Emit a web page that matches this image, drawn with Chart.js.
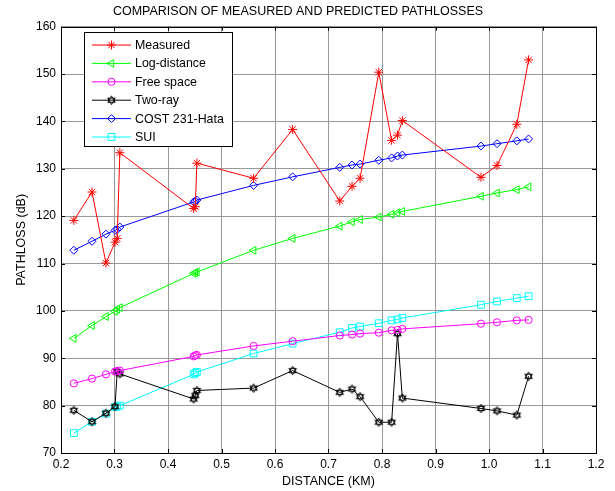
<!DOCTYPE html>
<html>
<head>
<meta charset="utf-8">
<script src="https://cdn.jsdelivr.net/npm/chart.js@4/dist/chart.umd.min.js"></script>
<style>
    body { margin: 0; background: #fff; }
    #wrap { width: 615px; height: 491px; }
</style>
</head>
<body>
<div id="wrap"><canvas id="chart"></canvas></div>
<script>
const distance = [0.224, 0.258, 0.284, 0.301, 0.305, 0.31, 0.448, 0.451, 0.454, 0.56, 0.633,
    0.721, 0.744, 0.759, 0.794, 0.818, 0.829, 0.838, 0.985, 1.015, 1.052, 1.074];
const measured = [119.1, 125.1, 110.1, 114.5, 115.3, 133.4, 121.6, 122.0, 131.2, 128.0, 138.3,
    123.2, 126.3, 128.0, 150.4, 136.0, 137.1, 140.2, 128.2, 130.7, 139.4, 153.0];
const logDistance = [94.2, 96.9, 98.8, 99.9, 100.3, 100.7, 107.9, 108.1, 108.2, 112.8, 115.3,
    117.9, 118.8, 119.3, 119.8, 120.4, 120.7, 121.0, 124.2, 124.9, 125.6, 126.2];
const freeSpace = [84.7, 85.7, 86.6, 87.2, 87.3, 87.4, 90.4, 90.6, 90.7, 92.6, 93.6,
    94.8, 95.0, 95.2, 95.4, 95.9, 96.0, 96.2, 97.3, 97.6, 98.0, 98.1];
const twoRay = [79.0, 76.6, 78.4, 79.8, 87.2, 86.7, 81.4, 82.1, 83.2, 83.7, 87.4,
    82.8, 83.5, 81.9, 76.5, 76.5, 95.2, 81.6, 79.4, 78.9, 78.0, 86.2];
const cost231 = [112.8, 114.7, 116.2, 117.0, 117.2, 117.7, 123.0, 123.2, 123.4, 126.5, 128.3,
    130.3, 130.8, 131.0, 131.8, 132.3, 132.7, 132.9, 134.8, 135.3, 135.9, 136.3];
const sui = [74.2, 76.6, 78.3, 79.7, 79.8, 80.0, 86.6, 86.9, 87.1, 91.0, 93.1,
    95.5, 96.4, 96.7, 97.4, 98.0, 98.2, 98.5, 101.3, 102.0, 102.7, 103.1];

const seriesLabels = ['Measured', 'Log-distance', 'Free space', 'Two-ray', 'COST 231-Hata', 'SUI'];
const xTicks = [0.2, 1.2, 0.1];
const yTicks = [70, 160, 10];

const FONT = "'Liberation Sans', Arial, sans-serif";

// MATLAB style hexagram marker for the two-ray series
const makeHexagram = () => {
    const c = document.createElement('canvas');
    c.width = 11; c.height = 11;
    const g = c.getContext('2d');
    g.strokeStyle = '#000';
    g.lineWidth = 1;
    const tri = (start) => {
        g.beginPath();
        for (let i = 0; i < 3; i++) {
            const a = start + i * 2 * Math.PI / 3;
            const px = 5.5 + 4.3 * Math.cos(a), py = 5.5 + 4.3 * Math.sin(a);
            if (i === 0) g.moveTo(px, py); else g.lineTo(px, py);
        }
        g.closePath();
        g.stroke();
    };
    tri(-Math.PI / 2);
    tri(Math.PI / 2);
    return c;
};
const hexagram = makeHexagram();

const toPoints = (ys) => distance.map((d, i) => ({ x: d, y: ys[i] }));

const makeSet = (label, ys, color, style, radius, rotation) => ({
    label: label,
    data: toPoints(ys),
    borderColor: color,
    backgroundColor: 'transparent',
    borderWidth: 1,
    pointStyle: style,
    pointRadius: radius,
    pointRotation: rotation || 0,
    pointBorderColor: color,
    pointBorderWidth: 1,
    pointBackgroundColor: 'transparent',
    pointHoverRadius: radius,
    fill: false,
    tension: 0
});

const datasets = [
    makeSet(seriesLabels[0], measured, '#ff0000', 'star', 4.5),
    makeSet(seriesLabels[1], logDistance, '#00ff00', 'triangle', 4.5, -90),
    makeSet(seriesLabels[2], freeSpace, '#ff00ff', 'circle', 3.6),
    makeSet(seriesLabels[3], twoRay, '#000000', hexagram, 4),
    makeSet(seriesLabels[4], cost231, '#0000ff', 'rectRot', 4),
    makeSet(seriesLabels[5], sui, '#00ffff', 'rect', 4.8)
];

// box on all four sides plus inward tick marks
const boxPlugin = {
    id: 'matlabBox',
    afterDatasetsDraw(chart) {
        const { ctx, chartArea: a, scales } = chart;
        ctx.save();
        ctx.strokeStyle = '#000';
        ctx.lineWidth = 1;
        ctx.beginPath();
        scales.x.ticks.forEach(t => {
            const px = Math.round(scales.x.getPixelForValue(t.value)) + 0.5;
            ctx.moveTo(px, a.bottom); ctx.lineTo(px, a.bottom - 4);
            ctx.moveTo(px, a.top); ctx.lineTo(px, a.top + 4);
        });
        scales.y.ticks.forEach(t => {
            const py = Math.round(scales.y.getPixelForValue(t.value)) + 0.5;
            ctx.moveTo(a.left, py); ctx.lineTo(a.left + 4, py);
            ctx.moveTo(a.right, py); ctx.lineTo(a.right - 4, py);
        });
        ctx.stroke();
        ctx.strokeRect(Math.round(a.left) + 0.5, Math.round(a.top) + 0.5,
            Math.round(a.right - a.left), Math.round(a.bottom - a.top));
        ctx.restore();
    }
};

// legend inside the axes, upper left, with a black frame
const legendPlugin = {
    id: 'boxLegend',
    afterDraw(chart) {
        const { ctx } = chart;
        const x0 = 84, y0 = 32, w = 148, h = 114;
        ctx.save();
        ctx.fillStyle = '#fff';
        ctx.fillRect(x0, y0, w, h);
        ctx.strokeStyle = '#000';
        ctx.lineWidth = 1;
        ctx.strokeRect(x0 + 0.5, y0 + 0.5, w, h);
        ctx.font = '12.4px ' + FONT;
        ctx.textBaseline = 'middle';
        chart.data.datasets.forEach((ds, i) => {
            const y = y0 + 12.5 + i * 18.4;
            ctx.strokeStyle = ds.borderColor;
            ctx.beginPath();
            ctx.moveTo(92, y + 0.5);
            ctx.lineTo(131, y + 0.5);
            ctx.stroke();
            ctx.fillStyle = 'rgba(0,0,0,0)';
            Chart.helpers.drawPoint(ctx, {
                pointStyle: ds.pointStyle,
                rotation: ds.pointRotation,
                radius: ds.pointRadius,
                borderWidth: 1
            }, 111.5, y + 0.5);
            ctx.fillStyle = '#000';
            ctx.fillText(ds.label, 135, y + 1);
        });
        ctx.restore();
    }
};

new Chart(document.getElementById('chart'), {
    type: 'line',
    data: { datasets: datasets },
    plugins: [boxPlugin, legendPlugin],
    options: {
        responsive: true,
        maintainAspectRatio: false,
        animation: false,
        layout: { padding: { left: 0, right: 19, top: 0, bottom: 0 } },
        plugins: {
            legend: { display: false },
            tooltip: { enabled: false },
            title: {
                display: true,
                text: 'COMPARISON OF MEASURED AND PREDICTED PATHLOSSES',
                color: '#000',
                font: { family: FONT, size: 12.5, weight: 'normal' },
                padding: { top: 4.5, bottom: 7.2 }
            }
        },
        scales: {
            x: {
                type: 'linear',
                min: xTicks[0],
                max: xTicks[1],
                afterFit: s => { s.height = 38; },
                ticks: {
                    stepSize: xTicks[2],
                    color: '#000',
                    padding: 4,
                    maxRotation: 0,
                    font: { family: FONT, size: 12 }
                },
                grid: { color: '#999999', drawTicks: false },
                border: { display: false },
                title: {
                    display: true,
                    text: 'DISTANCE (KM)',
                    color: '#000',
                    font: { family: FONT, size: 12.5 },
                    padding: { top: 0, bottom: 1.8 }
                }
            },
            y: {
                type: 'linear',
                min: yTicks[0],
                max: yTicks[1],
                afterFit: s => { s.width = 61; },
                ticks: {
                    stepSize: yTicks[2],
                    color: '#000',
                    padding: 5,
                    font: { family: FONT, size: 12 }
                },
                grid: { color: '#999999', drawTicks: false },
                border: { display: false },
                title: {
                    display: true,
                    text: 'PATHLOSS (dB)',
                    color: '#000',
                    font: { family: FONT, size: 12.5 },
                    padding: { top: 14.5, bottom: 0 }
                }
            }
        }
    }
});
</script>
</body>
</html>
